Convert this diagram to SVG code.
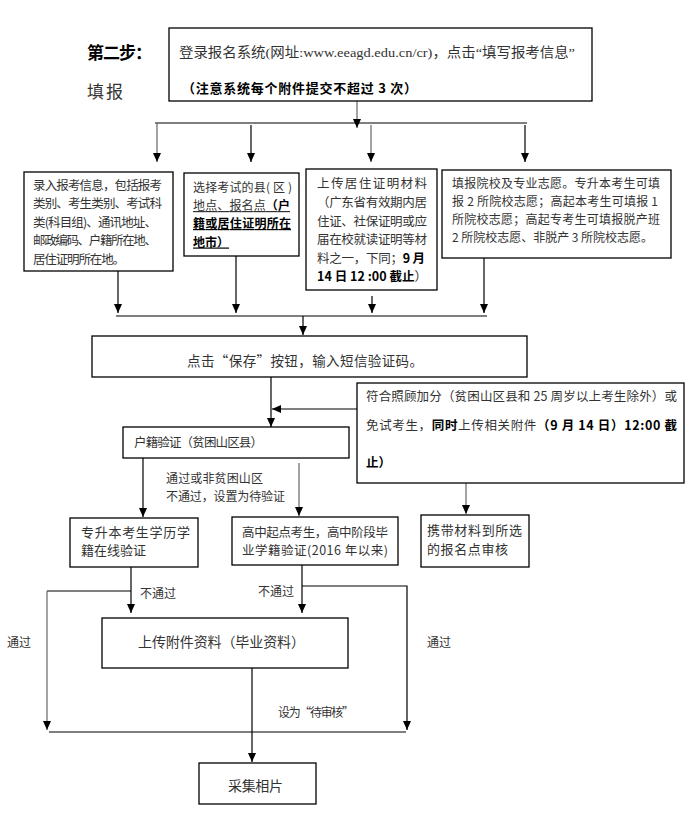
<svg xmlns="http://www.w3.org/2000/svg" width="696" height="820" viewBox="0 0 696 820">
<style>
text{font-family:"Noto Sans CJK SC","Noto Sans",sans-serif;fill:#333;font-size:12.5px}
.b{font-weight:bold;fill:#000}
.box{fill:#fff;stroke:#000;stroke-width:1.3}
.c{fill:none;stroke:#000;stroke-width:1.2}
.g{stroke:#666}
.u{text-decoration:underline}
.serif{font-family:"Liberation Serif","Noto Sans CJK SC",serif}
</style>
<defs>
<marker id="ar" markerUnits="userSpaceOnUse" markerWidth="9" markerHeight="8" refX="9" refY="4" orient="auto" viewBox="0 0 9 8">
<path d="M0,0 L9,4 L0,8 z" fill="#000"/>
</marker>
</defs>
<rect width="696" height="820" fill="#fff"/>

<g id="title">
<text x="87" y="59" class="b" style="font-size:17px" textLength="65" lengthAdjust="spacing">第二步：</text>
<text x="87" y="98" style="font-size:17px" textLength="36" lengthAdjust="spacing">填报</text>
</g>

<g id="connectors">
<path class="c g" d="M357,101 V128" marker-end="url(#ar)"/>
<path class="c" d="M155,123 H527"/>
<path class="c g" d="M157,123 V162" marker-end="url(#ar)"/>
<path class="c" d="M251,125 V162" marker-end="url(#ar)"/>
<path class="c g" d="M371,125 V162" marker-end="url(#ar)"/>
<path class="c" d="M525,125 V162" marker-end="url(#ar)"/>
<path class="c" d="M118,271 V313" marker-end="url(#ar)"/>
<path class="c" d="M236,256 V313" marker-end="url(#ar)"/>
<path class="c" d="M372,296 V313" marker-end="url(#ar)"/>
<path class="c" d="M484,258 V313" marker-end="url(#ar)"/>
<path class="c" d="M116,316 H487"/>
<path class="c" d="M303,316 V335" marker-end="url(#ar)"/>
<path class="c" d="M271,377 V427" marker-end="url(#ar)"/>
<path class="c" d="M357,409 H272" marker-end="url(#ar)"/>
<path class="c" d="M143,458 V517" marker-end="url(#ar)"/>
<path class="c g" d="M299,463 V516" marker-end="url(#ar)"/>
<path class="c g" d="M466,483 V514" marker-end="url(#ar)"/>
<path class="c" d="M131,567 V613" marker-end="url(#ar)"/>
<path class="c" d="M131,591 H47"/>
<path class="c g" d="M47,591 V730" marker-end="url(#ar)"/>
<path class="c" d="M302,565 V613" marker-end="url(#ar)"/>
<path class="c" d="M302,586 H407 V730" marker-end="url(#ar)"/>
<path class="c" d="M49,732 H406"/>
<path class="c" d="M252,668 V762" marker-end="url(#ar)"/>
<text x="166" y="483" style="font-size:12px" textLength="97" lengthAdjust="spacing">通过或非贫困山区</text>
<text x="166" y="501" style="font-size:12px" textLength="119" lengthAdjust="spacing">不通过，设置为待验证</text>
<text x="140" y="598" style="font-size:12px">不通过</text>
<text x="258" y="596" style="font-size:12px">不通过</text>
<text x="7" y="647" style="font-size:12px">通过</text>
<text x="427" y="647" style="font-size:12px">通过</text>
<text x="278" y="717" style="font-size:12px" textLength="76" lengthAdjust="spacing">设为“待审核”</text>
</g>

<g id="n-login">
<rect class="box" x="169" y="28" width="423" height="73"/>
<text x="179" y="57" class="serif" style="font-size:13.5px" textLength="396" lengthAdjust="spacingAndGlyphs">登录报名系统(网址:www.eeagd.edu.cn/cr)，点击“填写报考信息”</text>
<text x="182" y="93" class="b" style="font-size:13px" textLength="235" lengthAdjust="spacing">（注意系统每个附件提交不超过 3 次）</text>
</g>

<g id="n-info">
<rect class="box" x="24" y="172" width="149" height="99"/>
<text x="33" y="189.5" textLength="129" lengthAdjust="spacing">录入报考信息，包括报考</text>
<text x="33" y="208" textLength="129" lengthAdjust="spacing">类别、考生类别、考试科</text>
<text x="33" y="226.5" textLength="124" lengthAdjust="spacing">类(科目组)、通讯地址、</text>
<text x="33" y="245" textLength="124" lengthAdjust="spacing">邮政编码、户籍所在地、</text>
<text x="33" y="263.5" textLength="92" lengthAdjust="spacing">居住证明所在地。</text>
</g>

<g id="n-county">
<rect class="box" x="184" y="173" width="115" height="83"/>
<text x="193" y="192" style="font-size:12px" textLength="99" lengthAdjust="spacing">选择考试的县( 区 )</text>
<text x="193" y="210" style="font-size:12px" class="u" textLength="97" lengthAdjust="spacing">地点、报名点<tspan class="b">（户</tspan></text>
<text x="193" y="228" style="font-size:12px" class="b u" textLength="98" lengthAdjust="spacing">籍或居住证明所在</text>
<text x="193" y="246.5" style="font-size:12px" class="b u">地市）</text>
</g>

<g id="n-residence">
<rect class="box" x="306" y="169" width="131" height="121"/>
<text x="317" y="188" textLength="110" lengthAdjust="spacing">上传居住证明材料</text>
<text x="317" y="206.5" textLength="110" lengthAdjust="spacing">（广东省有效期内居</text>
<text x="317" y="225.5" textLength="110" lengthAdjust="spacing">住证、社保证明或应</text>
<text x="317" y="244" textLength="110" lengthAdjust="spacing">届在校就读证明等材</text>
<text x="317" y="262.5" textLength="108" lengthAdjust="spacing">料之一，下同；<tspan class="b">9 月</tspan></text>
<text x="317" y="281" textLength="110" lengthAdjust="spacing"><tspan class="b">14 日 12 :00 截止</tspan>）</text>
</g>

<g id="n-wish">
<rect class="box" x="442" y="170" width="229" height="88"/>
<text x="452" y="187.5" style="font-size:12px" textLength="208" lengthAdjust="spacing">填报院校及专业志愿。专升本考生可填</text>
<text x="452" y="205.5" style="font-size:12px" textLength="206" lengthAdjust="spacing">报 2 所院校志愿；高起本考生可填报 1</text>
<text x="452" y="223.5" style="font-size:12px" textLength="208" lengthAdjust="spacing">所院校志愿；高起专考生可填报脱产班</text>
<text x="452" y="241.5" style="font-size:12px" textLength="201" lengthAdjust="spacing">2 所院校志愿、非脱产 3 所院校志愿。</text>
</g>

<g id="n-save">
<rect class="box" x="92" y="336" width="435" height="41"/>
<text x="187" y="366" style="font-size:13.5px" textLength="236" lengthAdjust="spacing">点击“保存”按钮，输入短信验证码。</text>
</g>

<g id="n-bonus">
<rect class="box" x="357" y="383" width="327" height="100"/>
<text x="366" y="401" textLength="311" lengthAdjust="spacing">符合照顾加分（贫困山区县和 25 周岁以上考生除外）或</text>
<text x="366" y="429.5" textLength="311" lengthAdjust="spacing">免试考生，<tspan class="b">同时</tspan>上传相关附件<tspan class="b">（9 月 14 日）12:00 截</tspan></text>
<text x="366" y="466.5" class="b">止）</text>
</g>

<g id="n-huji">
<rect class="box" x="123" y="427" width="226" height="31"/>
<text x="134" y="447" textLength="129" lengthAdjust="spacing">户籍验证（贫困山区县）</text>
</g>

<g id="n-zsb">
<rect class="box" x="70" y="518" width="128" height="49"/>
<text x="81" y="537" style="font-size:13px" textLength="109" lengthAdjust="spacing">专升本考生学历学</text>
<text x="81" y="555" style="font-size:13px">籍在线验证</text>
</g>

<g id="n-gz">
<rect class="box" x="232" y="517" width="166" height="48"/>
<text x="242" y="537" textLength="146" lengthAdjust="spacing">高中起点考生，高中阶段毕</text>
<text x="242" y="555" textLength="146" lengthAdjust="spacing">业学籍验证(2016 年以来)</text>
</g>

<g id="n-carry">
<rect class="box" x="421" y="515" width="108" height="52"/>
<text x="427" y="535" style="font-size:13px" textLength="95" lengthAdjust="spacing">携带材料到所选</text>
<text x="427" y="554" style="font-size:13px" textLength="81" lengthAdjust="spacing">的报名点审核</text>
</g>

<g id="n-upload">
<rect class="box" x="102" y="618" width="246" height="50"/>
<text x="138" y="647" style="font-size:14px" textLength="167" lengthAdjust="spacing">上传附件资料（毕业资料）</text>
</g>

<g id="n-photo">
<rect class="box" x="199" y="763" width="117" height="41"/>
<text x="228" y="791" style="font-size:14px" textLength="55" lengthAdjust="spacing">采集相片</text>
</g>
</svg>
